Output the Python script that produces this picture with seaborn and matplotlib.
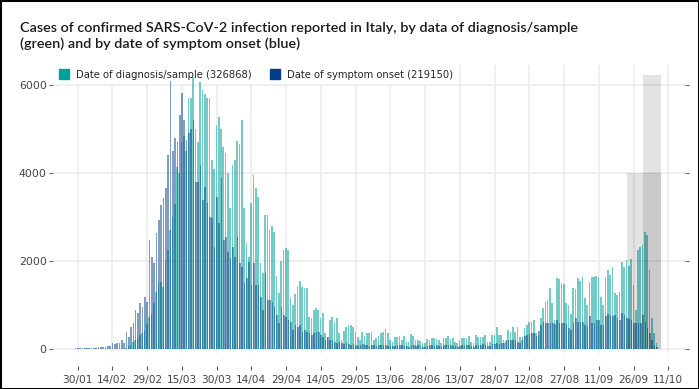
import matplotlib
matplotlib.use("Agg")
import matplotlib.pyplot as plt
import matplotlib.dates as mdates
from matplotlib.ticker import FixedLocator
from matplotlib.lines import Line2D
from matplotlib.patches import Rectangle
import seaborn as sns
import numpy as np
import pandas as pd

# ---------------- data ----------------
start_date = "2020-01-25"

diagnosis = [
    0, 0, 0, 0, 0, 0, 2, 1, 0, 0,
    0, 0, 0, 0, 0, 0, 0, 0, 0, 0,
    0, 0, 0, 0, 3, 10, 20, 60, 100, 150,
    200, 260, 320, 360, 420, 580, 730, 800, 1040, 1300,
    1490, 1530, 1420, 2020, 2250, 2700, 3000, 3300, 4140, 4000,
    4700, 4830, 4500, 5700, 5700, 6190, 5000, 4700, 6075, 5886,
    5800, 5700, 5700, 4300, 4100, 5090, 5280, 5000, 4600, 4450,
    4000, 3200, 4180, 4300, 4720, 4670, 5200, 3200, 2400, 2100,
    3310, 3950, 3650, 3460, 1950, 1720, 3045, 3045, 2705, 2800,
    2650, 1650, 1265, 2000, 2250, 2300, 2250, 1150, 1000, 1250,
    1430, 1550, 1400, 1380, 1380, 735, 700, 886, 924, 886,
    697, 810, 356, 280, 660, 720, 620, 697, 356, 205,
    420, 508, 545, 545, 508, 394, 280, 200, 394, 300,
    356, 356, 394, 200, 240, 295, 356, 394, 447, 356,
    205, 150, 280, 280, 303, 205, 295, 170, 150, 341,
    295, 205, 205, 190, 130, 130, 227, 205, 242, 242,
    220, 205, 140, 242, 242, 295, 220, 242, 170, 130,
    205, 242, 242, 242, 295, 170, 130, 318, 265, 265,
    265, 318, 170, 150, 318, 318, 492, 318, 318, 200,
    180, 432, 394, 508, 394, 508, 280, 200, 470, 545,
    621, 621, 659, 356, 300, 697, 924, 1076, 1113, 1379,
    1038, 650, 1606, 1583, 1492, 1477, 1038, 1000, 800, 1379,
    1356, 1606, 1553, 1644, 1150, 1000, 1530, 1644, 1629, 1659,
    1644, 1190, 1000, 1644, 1795, 1682, 1856, 1265, 1227, 1300,
    1985, 1871, 2022, 1886, 2037, 1455, 886, 2250, 2326, 2364,
    2667, 2591, 1795, 697, 356, 129,
]

onset = [
    0, 0, 0, 10, 15, 20, 15, 20, 25, 20,
    30, 25, 20, 30, 35, 40, 50, 45, 70, 60,
    130, 110, 144, 129, 200, 129, 394, 280, 507, 583,
    886, 810, 1038, 960, 1190, 1080, 2477, 2100, 1947, 2629,
    2932, 3273, 3424, 3651, 4409, 6100, 4500, 4788, 4712, 5318,
    5810, 5205, 4750, 4900, 5000, 5205, 3800, 3800, 4182, 3386,
    3690, 3310, 3008, 2970, 2326, 3462, 2856, 3879, 2477, 2553,
    2212, 2060, 2326, 2098, 2553, 1947, 1871, 1492, 1606, 1985,
    1455, 1947, 1455, 1455, 1190, 886, 1720, 1113, 1113, 1076,
    962, 773, 583, 962, 773, 735, 660, 620, 431, 545,
    508, 545, 394, 431, 394, 356, 318, 356, 394, 394,
    318, 280, 205, 280, 205, 205, 167, 129, 167, 129,
    120, 130, 110, 100, 120, 90, 80, 100, 110, 90,
    100, 80, 90, 100, 70, 85, 90, 95, 90, 80,
    60, 65, 80, 90, 85, 90, 80, 60, 55, 85,
    90, 80, 85, 75, 55, 50, 80, 85, 90, 80,
    85, 70, 50, 85, 90, 95, 85, 80, 60, 55,
    80, 90, 95, 85, 90, 65, 55, 95, 100, 100,
    105, 100, 75, 65, 110, 120, 130, 125, 129, 129,
    205, 205, 205, 205, 205, 150, 140, 280, 300, 320,
    340, 356, 356, 300, 420, 545, 621, 583, 583, 600,
    583, 560, 659, 600, 600, 583, 560, 470, 432, 583,
    697, 621, 621, 621, 545, 500, 750, 583, 583, 659,
    659, 545, 545, 750, 790, 770, 750, 770, 700, 650,
    810, 772, 700, 680, 660, 600, 600, 600, 600, 772,
    621, 470, 356, 205, 90, 40,
]

diagnosis_total = 326868
onset_total = 219150

series_labels = [
    f"Date of diagnosis/sample ({diagnosis_total})",
    f"Date of symptom onset ({onset_total})",
]

tick_dates = pd.date_range("2020-01-30", "2020-10-11", freq="15D")
y_ticks = [0, 2000, 4000, 6000]

shade_starts = ["2020-09-23", "2020-09-30"]
shade_end = "2020-10-08"
shade_tops = [4000, 6220]

title = ("Cases of confirmed SARS-CoV-2 infection reported in Italy, by data of diagnosis/sample\n"
         "(green) and by date of symptom onset (blue)")

TEAL = "#00A19A"
BLUE = "#003F87"

# ---------------- figure ----------------
sns.set_theme(style="white")
plt.rcParams["font.family"] = ["DejaVu Sans"]

fig = plt.figure(figsize=(6.99, 3.89), dpi=100)
ax = fig.add_axes([53 / 699, 36 / 389, 632 / 699, 288 / 389])

dates = pd.date_range(start_date, periods=len(diagnosis))
xnum = mdates.date2num(dates)

sns.histplot(x=xnum - 0.08, weights=np.array(diagnosis, float), discrete=True,
             shrink=0.72, color=TEAL, alpha=0.55, linewidth=0, ax=ax, zorder=2)
sns.histplot(x=xnum + 0.08, weights=np.array(onset, float), discrete=True,
             shrink=0.72, color=BLUE, alpha=0.5, linewidth=0, ax=ax, zorder=3)

end_num = mdates.date2num(pd.Timestamp(shade_end))
for s, top in zip(shade_starts, shade_tops):
    s_num = mdates.date2num(pd.Timestamp(s))
    ax.add_patch(Rectangle((s_num, 0), end_num - s_num, top, facecolor="black",
                           alpha=0.11, edgecolor="none", zorder=4))

x0 = xnum[0]
ax.set_xlim(x0 - 5.6, x0 + 267.2)
ax.set_ylim(-90, 6454)

ax.xaxis.set_major_locator(FixedLocator(mdates.date2num(tick_dates)))
ax.xaxis.set_major_formatter(mdates.DateFormatter("%d/%m"))
ax.set_yticks(y_ticks)
ax.set_yticklabels([str(v) for v in y_ticks])
ax.set_xlabel("")
ax.set_ylabel("")

ax.grid(True, color="#ebebeb", linewidth=1.1)
ax.set_axisbelow(True)
for sp in ax.spines.values():
    sp.set_visible(False)
ax.spines["bottom"].set_position(("outward", 9))

ax.tick_params(axis="x", bottom=True, length=3, width=0.8, color="#555555",
               labelsize=7.6, labelcolor="#444444", pad=3.5)
ax.tick_params(axis="y", left=True, right=True, length=3, width=0.8, color="#666666",
               labelsize=7.8, labelcolor="#444444", pad=1.5)

handles = [Line2D([], [], marker="s", linestyle="none", markersize=6.8, color=c)
           for c in (TEAL, BLUE)]
leg = ax.legend(handles, series_labels, loc="upper left", bbox_to_anchor=(0.0, 1.0),
                ncol=2, fontsize=7.2, frameon=True, facecolor="white", edgecolor="none",
                framealpha=1, handletextpad=0.6, columnspacing=1.8, borderaxespad=0.0,
                borderpad=0.45, fancybox=False, handlelength=1.2)
leg.set_zorder(1.5)

fig.text(20 / 699, 1 - 22 / 389, title, ha="left", va="top", fontsize=10.4,
         family="Lato", fontweight="semibold", color="#1a1a1a", linespacing=1.3)

fig.patches.append(Rectangle((0, 0), 1, 1, transform=fig.transFigure, fill=False,
                             edgecolor="black", linewidth=2.2))

fig.savefig("out.png", dpi=100)
